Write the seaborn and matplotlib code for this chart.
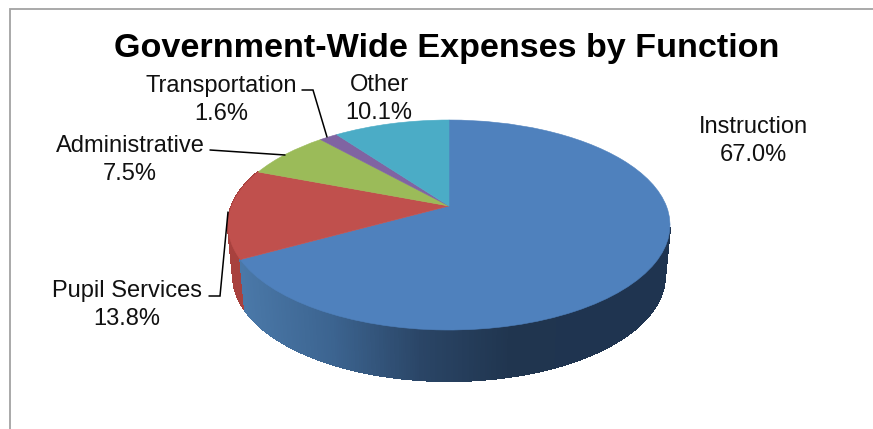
import numpy as np
import matplotlib
matplotlib.use("Agg")
import matplotlib.pyplot as plt
from matplotlib.transforms import Transform
from matplotlib.path import Path
import seaborn as sns

# Budget shares by function, clockwise from twelve o'clock
functions = ["Instruction", "Pupil Services", "Administrative", "Transportation", "Other"]
shares = [67.0, 13.8, 7.5, 1.6, 10.1]
top_colors = ["#4F81BD", "#C0504D", "#9BBB59", "#8064A2", "#4BACC6"]
title_text = "Government-Wide Expenses by Function"

# Label centres in canvas pixels and elbow leader lines
label_centers = [(753, 141), (127, 305), (130, 160), (221, 100), (379, 99)]
leaders = [None,
           [(209, 296), (220, 296), (228, 212)],
           [(210, 150), (285, 155)],
           [(302, 90), (313, 90), (327, 137)],
           None]

W, H = 873, 429
CX, CY = 449.0, 225.0     # centre of the rim ellipse
RX, RY = 221.0, 105.0     # semi-axes of the rim ellipse
APEX_DY = 19.0            # pie centre sits above the ellipse centre in perspective
DEPTH = 51.0              # visible thickness of the disc
BOTTOM_SHRINK = 0.977     # lower rim is slightly narrower
WALL_START = 102.0        # degrees clockwise where the side wall comes into view

persp = APEX_DY / (RY * 2) * 2
kx = RX * np.sqrt(1 - persp ** 2)


def project(u, v):
    """Tilted-disc projection from the unit pie circle to canvas pixels."""
    w = 1 + persp * v
    return CX + kx * u / w, CY - (RY * v + APEX_DY) / w


class TiltedDisc(Transform):
    input_dims = output_dims = 2
    has_inverse = False

    def transform_non_affine(self, values):
        values = np.asarray(values, dtype=float)
        x, y = project(values[:, 0], values[:, 1])
        return np.column_stack([x, y])

    def transform_path_non_affine(self, path):
        dense = path.interpolated(1) if path.codes is None else path
        return Path(self.transform_non_affine(dense.vertices), dense.codes)


sns.set_theme(style="white")
plt.rcParams["font.family"] = ["Liberation Sans", "DejaVu Sans"]

fig = plt.figure(figsize=(W / 100, H / 100), dpi=100, facecolor="white")
ax = fig.add_axes([0, 0, 1, 1])

wedges, _ = ax.pie(shares, colors=top_colors, startangle=90, counterclock=False,
                   wedgeprops={"linewidth": 0})
ax.set_aspect("auto")
ax.set_xlim(0, W)
ax.set_ylim(H, 0)
ax.axis("off")

disc = TiltedDisc() + ax.transData
for wedge in wedges:
    wedge.set_transform(disc)
    wedge.set_zorder(3)
    wedge.set_edgecolor(wedge.get_facecolor())
    wedge.set_linewidth(0.4)

# Side wall shading runs dark towards the right-hand side of the disc
blue_wall = sns.blend_palette(["#4A78A8", "#3C6490", "#2A4566", "#20354F", "#1F3450"], as_cmap=True)
red_wall = sns.blend_palette(["#A8413E", "#A03C3A"], as_cmap=True)
wall_maps = [blue_wall, red_wall]

edges = np.cumsum([0] + shares) / sum(shares) * 360
for i, cmap in enumerate(wall_maps):
    start = max(edges[i], WALL_START)
    angles = np.linspace(start, edges[i + 1], int((edges[i + 1] - start) * 2) + 2)
    for a0, a1 in zip(angles[:-1], angles[1:]):
        t = np.radians([a0, a1])
        x, y = project(np.sin(t), np.cos(t))
        xb = CX + (x - CX) * BOTTOM_SHRINK
        yb = y + DEPTH
        shade = (x.mean() - 240) / (600 - 240)
        shade_color = cmap(float(np.clip(shade, 0, 1)))
        ax.fill([x[0], x[1], xb[1], xb[0]], [y[0], y[1], yb[1], yb[0]],
                facecolor=shade_color, edgecolor=shade_color, lw=0.8,
                antialiased=False, zorder=2 if i == 1 else 2.5)

# Category labels with their percentage underneath
for name, share, (lx, ly) in zip(functions, shares, label_centers):
    ax.text(lx, ly, f"{name}\n{share:.1f}%", ha="center", va="center", fontsize=17,
            color="#111111", linespacing=1.31, zorder=5)

for path in leaders:
    if path:
        xs, ys = zip(*path)
        ax.plot(xs, ys, color="black", lw=1.1, zorder=4, solid_joinstyle="miter")

ax.text(446.5, 49, title_text, ha="center", va="center", fontsize=24.6, fontweight="bold",
        color="black", zorder=5)

# Chart frame, cut off by the right and bottom of the canvas
ax.plot([9.5, 9.5, W], [H, 8.5, 8.5], color="#A3A3A3", lw=1.3, zorder=1,
        solid_joinstyle="miter", clip_on=True)

fig.savefig("out.png", dpi=100, facecolor="white")
